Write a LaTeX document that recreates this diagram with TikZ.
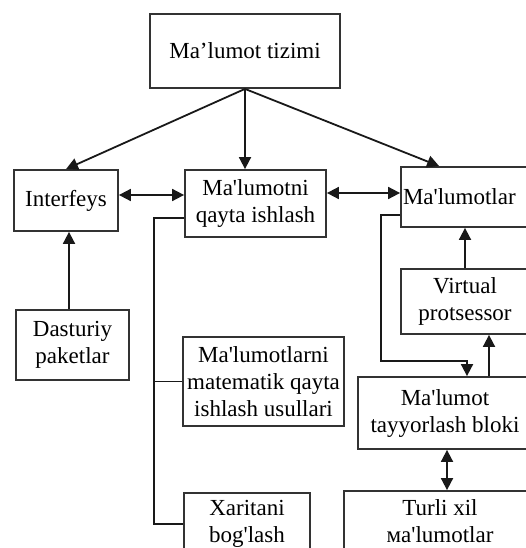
\documentclass[tikz,border=0pt]{standalone}
\usepackage{fontspec}
\setmainfont{Liberation Serif}[Ligatures=TeXOff]
\usetikzlibrary{arrows.meta,calc}
\definecolor{edge}{HTML}{333333}
\begin{document}
\begin{tikzpicture}[x=1pt,y=-1pt,
  box/.style={draw=edge,line width=1.8pt,rectangle,inner sep=2pt,align=center,
    font=\fontsize{23}{27}\selectfont},
  link/.style={line width=1.8pt,draw=black!90},
  tip/.tip={Triangle[length=12pt,width=12pt]},
  arr/.style={link,-tip},
  dbl/.style={link,tip-tip}]
\useasboundingbox (0,0) rectangle (526,548);
\clip (0,0) rectangle (526,548);

% boxes
\node[box,minimum width=190,minimum height=74] (top) at (245,51) {Ma’lumot tizimi};
\node[box,minimum width=104,minimum height=61] (ifc) at (66,200.5) {Interfeys};
\node[box,minimum width=141,minimum height=67] (mq) at (255.5,203.5) {Ma'lumotni\\qayta ishlash};
\node[box,text width=126,align=left,minimum height=60] (ml) at (466,197) {Ma'lumotlar};
\node[box,minimum width=113,minimum height=70] (ds) at (72.5,345) {Dasturiy\\paketlar};
\node[box,minimum width=161,minimum height=89] (mm) at (263.5,381.5) {Ma'lumotlarni\\matematik qayta\\ishlash usullari};
\node[box,minimum width=126,minimum height=62] (xb) at (247,524) {Xaritani\\bog'lash};
\node[box,minimum width=128,minimum height=65] (vp) at (465,301.5) {Virtual\\protsessor};
\node[box,minimum width=174,minimum height=72] (tb) at (445,413) {Ma'lumot\\tayyorlash bloki};
\node[box,minimum width=192,minimum height=60] (tx) at (440,521) {Turli xil\\мa'lumotlar};

% arrows from the top box
\draw[arr] (top.south) -- (ifc.north);
\draw[arr] (top.south) -- (top.south |- mq.north);
\draw[arr] (top.south) -- ($(ml.north west)+(39,0)$);

% horizontal two-way links
\draw[dbl] (ifc.east |- 0,195) -- (mq.west |- 0,195);
\draw[dbl] (mq.east |- 0,193) -- (ml.west |- 0,193);

% processing branch
\coordinate (bus) at (154,218);
\draw[link] (mq.west |- bus) -- (bus) -- (bus |- xb.west) -- (xb.west);
\draw[link] (bus |- mm.west) -- (mm.west);

% software packages to interface
\draw[arr] (ds.north -| 69,0) -- (ifc.south -| 69,0);

% right column
\draw[arr] (vp.north) -- (vp.north |- ml.south);
\draw[arr] (tb.north -| 489,0) -- (vp.south -| 489,0);
\coordinate (rb) at (381,215);
\draw[arr] (ml.west |- rb) -- (rb) -- (381,361) -- (467,361) -- (tb.north -| 467,0);
\draw[dbl] (tb.south -| 447,0) -- (tx.north -| 447,0);
\end{tikzpicture}
\end{document}
